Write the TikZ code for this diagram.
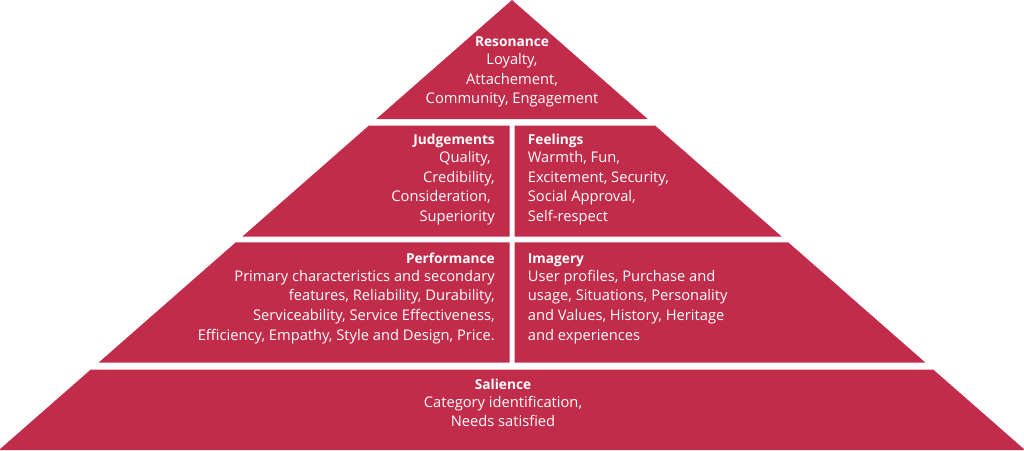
\documentclass[tikz,border=0pt]{standalone}
\usepackage{fontspec}
\setmainfont{Open Sans}
\definecolor{pyr}{RGB}{193,44,74}
\newcommand\hdfont{\bfseries\fontsize{13.7}{14}\selectfont}
\begin{document}
\begin{tikzpicture}[x=1pt,y=-1pt,
  band/.style={fill=pyr,draw=none},
  txt/.style={text=white,inner sep=0pt,font=\fontsize{14.7}{19.7}\selectfont}]
\useasboundingbox (0,0) rectangle (1024,450);
% bands (half-width = 1.14*y around x=512)
\fill[band] (512,0) -- (647.7,119) -- (376.3,119) -- cycle;
\fill[band] (369.0,125.5) -- (509.5,125.5) -- (509.5,236.7) -- (242.2,236.7) -- cycle;
\fill[band] (514.5,125.5) -- (655.0,125.5) -- (781.8,236.7) -- (514.5,236.7) -- cycle;
\fill[band] (235.8,242.3) -- (509.5,242.3) -- (509.5,362.7) -- (98.5,362.7) -- cycle;
\fill[band] (514.5,242.3) -- (788.2,242.3) -- (925.5,362.7) -- (514.5,362.7) -- cycle;
\fill[band] (90.8,369.5) -- (933.2,369.5) -- (1025,450) -- (-1,450) -- cycle;
% texts (base anchor = baseline of last line)
\node[txt,align=center,anchor=base] (res) at (512,103.8)
  {{\hdfont Resonance}\\[-2pt] Loyalty,\\ Attachement,\\ Community, Engagement};
\node[txt,align=right,anchor=base east] (jud) at (495,221.5)
  {{\hdfont Judgements}\\[-2pt] Quality,\kern4pt\\ Credibility,\\ Consideration,\kern4pt\\ Superiority};
\node[txt,align=left,anchor=base west] (fee) at (527.7,221.5)
  {{\hdfont Feelings}\\[-2pt] Warmth, Fun,\\ Excitement, Security,\\ Social Approval,\\ Self-respect};
\node[txt,align=right,anchor=base east] (per) at (495,340.3)
  {{\hdfont Performance}\\[-2pt] Primary characteristics and secondary\\ features, Reliability, Durability,\\ Serviceability, Service Effectiveness,\\ Efficiency, Empathy, Style and Design, Price.};
\node[txt,align=left,anchor=base west] (ima) at (527.7,340.3)
  {{\hdfont Imagery}\\[-2pt] User profiles, Purchase and\\ usage, Situations, Personality\\ and Values, History, Heritage\\ and experiences};
\node[txt,align=center,anchor=base] (sal) at (503,426.9)
  {{\hdfont Salience}\\[-2pt] Category identification,\\ Needs satisfied};
\end{tikzpicture}
\end{document}
